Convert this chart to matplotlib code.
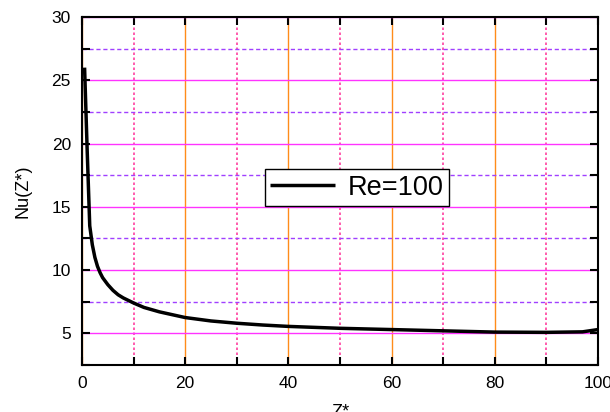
import matplotlib
matplotlib.use("Agg")
import matplotlib.pyplot as plt
from matplotlib.ticker import MultipleLocator

plt.rcParams['font.family'] = ['Liberation Sans', 'DejaVu Sans']

z = [0.5, 1.0, 1.5, 2.0, 2.5, 3.0, 3.5, 4.0, 5.0, 6.0, 7.0, 8.0, 10, 12, 15, 20, 25, 30, 35, 40, 50, 60, 70, 80, 90, 97, 100]
nu = [26.0, 19.5, 13.5, 12.0, 11.0, 10.3, 9.8, 9.4, 8.85, 8.4, 8.05, 7.8, 7.4, 7.05, 6.7, 6.25, 5.98, 5.8, 5.66, 5.55, 5.4, 5.3, 5.2, 5.1, 5.08, 5.12, 5.3]
series_label = "Re=100"
x_ticks = [0, 20, 40, 60, 80, 100]
y_ticks = [5, 10, 15, 20, 25, 30]

fig = plt.figure(figsize=(6.1, 4.12), dpi=100)
ax = fig.add_axes([82/610, (412-365)/412, 516/610, 348/412])

ax.set_xlim(0, 100)
ax.set_ylim(2.5, 30)
ax.xaxis.set_minor_locator(MultipleLocator(10))
ax.yaxis.set_minor_locator(MultipleLocator(2.5))
ax.set_xticks(x_ticks)
ax.set_yticks(y_ticks)

ax.grid(True, which='major', axis='x', color='#ff8c1a', linestyle='-', linewidth=1.0)
ax.grid(True, which='minor', axis='x', color='#ff3fa0', linestyle=(0, (1.5, 1.5)), linewidth=1.2)
ax.grid(True, which='major', axis='y', color='#ff33ff', linestyle='-', linewidth=1.0)
ax.grid(True, which='minor', axis='y', color='#a040ff', linestyle=(0, (3, 2)), linewidth=1.0)
ax.set_axisbelow(True)

ax.plot(z, nu, color='black', linewidth=2.5, label=series_label, solid_capstyle='butt', solid_joinstyle='round')

ax.tick_params(which='both', direction='in', top=True, right=True, length=6, width=1.5, labelsize=12.5, pad=8)
for s in ax.spines.values():
    s.set_linewidth(1.5)

ax.set_xlabel('Z*', fontsize=13, labelpad=9)
ax.set_ylabel('Nu(Z*)', fontsize=13, labelpad=14)

leg = ax.legend(loc='center', bbox_to_anchor=(0.533, 0.51), fontsize=19.5, frameon=True,
                fancybox=False, handlelength=2.4, borderpad=0.2, handletextpad=0.45, borderaxespad=0)
leg.get_frame().set_edgecolor('black')
leg.get_frame().set_linewidth(1.0)
leg.get_frame().set_alpha(1)

fig.savefig('out.png', dpi=100)
